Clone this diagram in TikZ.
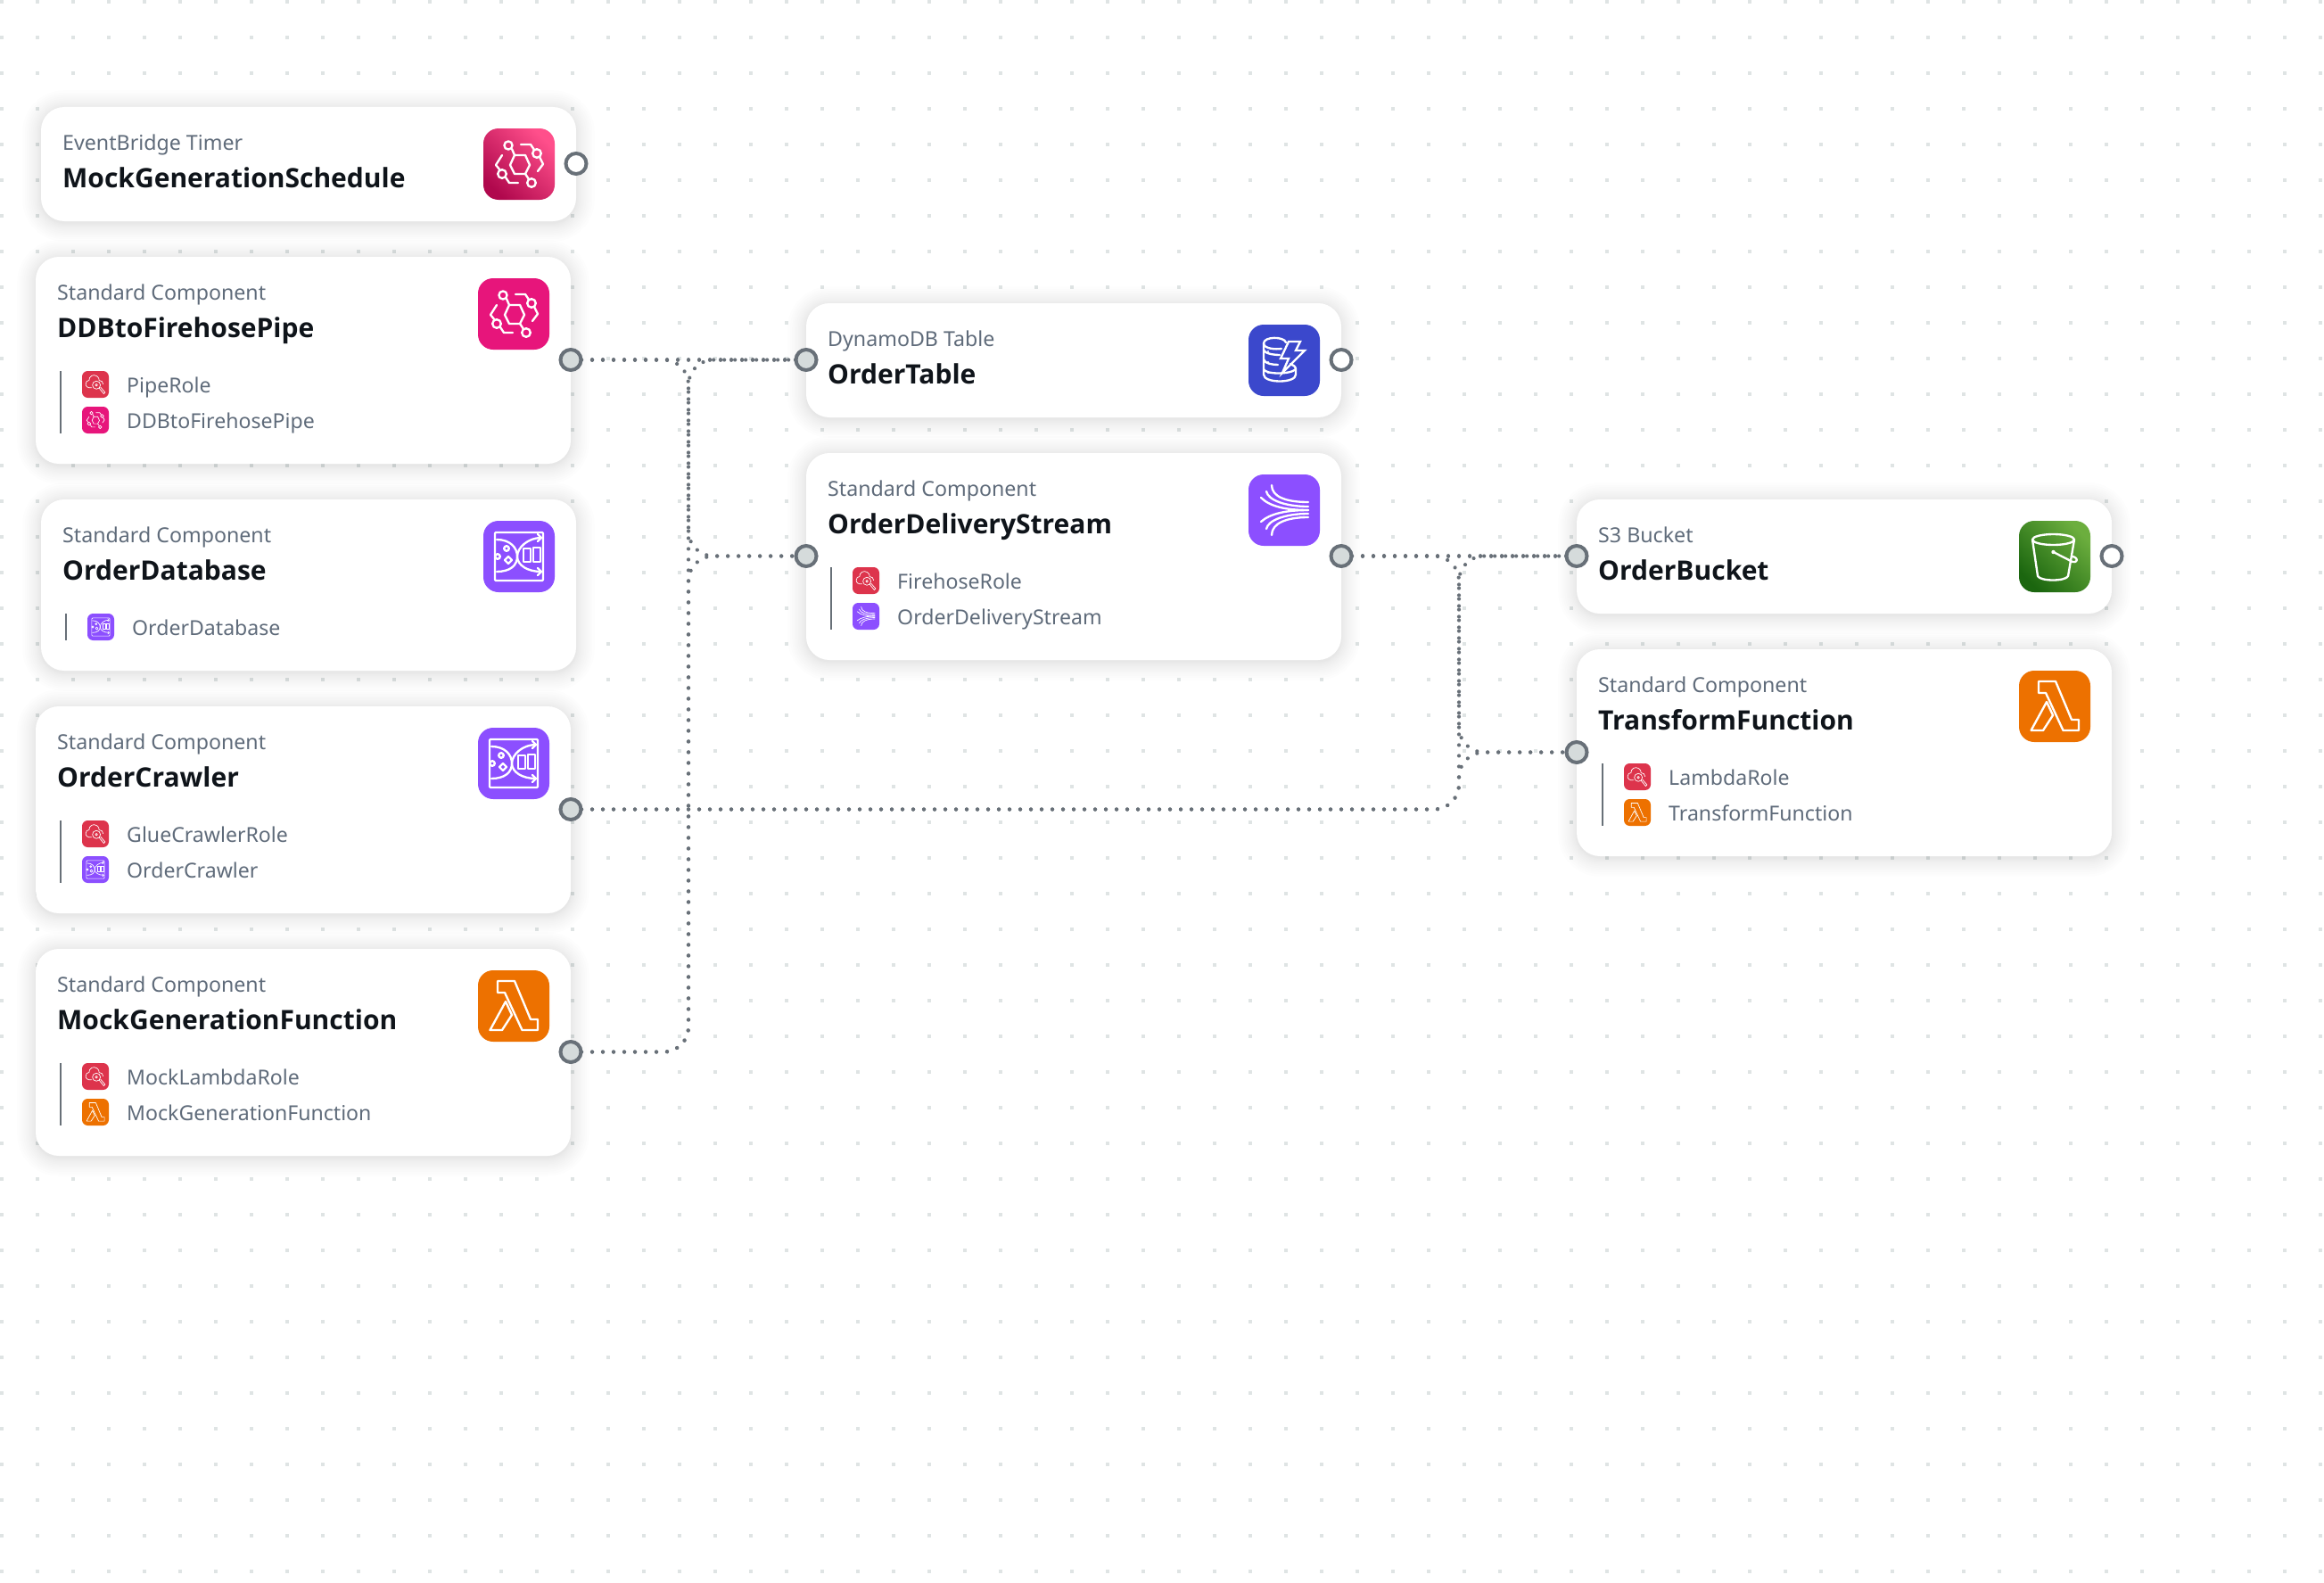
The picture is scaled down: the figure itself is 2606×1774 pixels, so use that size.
\documentclass[tikz,border=0pt]{standalone}
\usepackage{fontspec}
\setmainfont{Noto Sans}
\newfontfamily\titlefont{Open Sans}
\usetikzlibrary{calc}
\definecolor{dotc}{HTML}{DFE4E4}
\definecolor{portc}{HTML}{687078}
\definecolor{portfill}{HTML}{D5DBDB}
\definecolor{labelc}{HTML}{5F6B7A}
\definecolor{titlec}{HTML}{0F141A}
\definecolor{shadowc}{HTML}{001C24}
\definecolor{cpink}{HTML}{E7157B}
\definecolor{cpurple}{HTML}{8C4FFF}
\definecolor{corange}{HTML}{ED7100}
\definecolor{cblue}{HTML}{3B48CC}
\definecolor{cred}{HTML}{DD344C}
\pgfdeclarelayer{conn}
\pgfdeclarelayer{top}
\pgfsetlayers{main,conn,top}
\tikzset{
  cardbox/.style={rectangle,fill=white,rounded corners=26pt,inner sep=0pt,outer sep=0pt,anchor=north west},
  labeltext/.style={inner sep=0pt,anchor=base west,text=labelc,font=\fontsize{23.2}{28}\selectfont},
  titletext/.style={inner sep=0pt,anchor=base west,text=titlec,font=\fontsize{30}{36}\titlefont\bfseries},
  subtext/.style={inner sep=0pt,anchor=base west,text=labelc,font=\fontsize{23.1}{28}\selectfont},
  subbar/.style={draw=portc,line width=2.4pt},
  portfree/.style={circle,draw=portc,line width=4pt,fill=white,minimum size=23pt,inner sep=0pt},
  portused/.style={portfree,fill=portfill},
  flow/.style={draw=portc,line width=4.2pt,line cap=round,dash pattern=on 0.01pt off 11.99pt,rounded corners=28pt},
  bgpink/.style={fill=cpink},
  bgpurple/.style={fill=cpurple},
  bgorange/.style={fill=corange},
  bgblue/.style={fill=cblue},
  bgred/.style={fill=cred},
  bgpinkgrad/.style={bottom color=HB,top color=HT,shading angle=-45},
  bggreengrad/.style={bottom color=GB,top color=GT,shading angle=-45},
}
\definecolor{HB}{HTML}{B0084D}
\definecolor{HT}{HTML}{FF4F8B}
\definecolor{GB}{HTML}{1B660F}
\definecolor{GT}{HTML}{6CAE3E}
% ---------- icon glyphs, drawn in an 80x80 box
\newcommand\glyphEB{%
  \draw (30,41)--(35,30)--(47,30)--(52,41)--(47,51)--(35,51)--cycle;
  \draw (28,19) circle (4.6);
  \draw (32,23)--(35,30);
  \draw (60,28) circle (4.8);
  \draw (42,18)--(53,18)--(57,24);
  \draw (63,32)--(67,40)--(61,48);
  \draw (21,51) circle (4.8);
  \draw (21,30)--(14,41)--(19,47);
  \draw (25,55)--(29,61)--(39,61);
  \draw (54,61) circle (4.8);
  \draw (47,51)--(51,57);
}
\newcommand\glyphGlue{%
  \draw[rounded corners=1pt] (13,13) rectangle (67,67);
  \draw (45,31) rectangle (53,46);
  \draw (56,30) rectangle (64,46);
  \draw (26,31) circle (2.8);
  \draw (16,40) circle (2.8);
  \draw (28,40)--(32,44)--(28,48)--(24,44)--cycle;
  \draw (15,21) .. controls (30,21) and (38,30) .. (38,40) .. controls (38,50) and (50,57) .. (65,57);
  \draw (15,57) .. controls (30,57) and (38,50) .. (38,40) .. controls (38,30) and (50,19) .. (65,19);
  \draw (61,15)--(65,19)--(61,23);
  \draw (61,53)--(65,57)--(61,61);
}
\newcommand\glyphFirehose{%
  \draw (26,12) .. controls (26,25) and (42,31) .. (67,31);
  \draw (20,19) .. controls (22,29) and (42,36) .. (67,36);
  \draw (14,26) .. controls (24,36) and (42,40) .. (67,40);
  \draw (14,53) .. controls (24,44) and (42,40) .. (67,40);
  \draw (20,61) .. controls (22,51) and (42,44) .. (67,44);
  \draw (26,68) .. controls (26,55) and (42,48) .. (67,48);
}
\newcommand\glyphLambda{%
  \draw (22,12)--(41,12)--(59,55)--(67,55)--(67,67)--(49.5,67)--(30,25)--(22,25)--cycle;
  \draw (31,35)--(38,50)--(27,67)--(13.5,67)--cycle;
}
\newcommand\glyphDynamo{%
  \draw (42,20) .. controls (40,13) and (17,13) .. (17,21) -- (17,56) .. controls (17,66) and (53,66) .. (53,56) -- (53,50);
  \draw (17,21) .. controls (17,27) and (30,28) .. (37,27);
  \draw (17,28) .. controls (18,33) and (30,34) .. (35,34);
  \draw (17,39) .. controls (18,44) and (28,45) .. (33,45);
  \draw (17,50) .. controls (19,56) and (47,56) .. (53,50) .. controls (53,47) and (50,45) .. (47,44);
  \fill[white] (22,30) circle (1.2) (22,42) circle (1.2) (22,54) circle (1.2);
  \draw[line join=miter] (45,19)--(58,19)--(53,29)--(63,29)--(38,54)--(45,38)--(36,38)--cycle;
}
\newcommand\glyphSthree{%
  \draw (38.5,21) ellipse (23.5 and 6);
  \draw (15,21)--(21,62) .. controls (24,68) and (52,68) .. (55,62)--(62,21);
  \fill[white] (38.5,35) circle (2.2);
  \draw (38.5,35)--(60,46) .. controls (64,47) and (66,44) .. (64,42) .. controls (63,41) and (61,40) .. (60,40);
}
\newcommand\glyphIam{%
  \draw (28,50) .. controls (18,52) and (10,46) .. (11,38) .. controls (11,32) and (16,28) .. (21,28)
        .. controls (20,16) and (34,8) .. (44,15) .. controls (50,18) and (51,24) .. (51,28)
        .. controls (58,28) and (63,33) .. (63,39);
  \draw (43,42) circle (12);
  \draw (43,42) circle (3.5);
  \draw (51,51)--(65,68)--(69,64)--(55,48);
}
% ---------- icon tile
\newcommand\tile[5]{% style, glyph, x, y, scale
  \begin{scope}[shift={(#3,#4)},scale=#5]
    \path[#1,rounded corners=17pt*#5] (0,0) rectangle (80,80);
    \begin{scope}[color=white,line width=2.65pt*#5-0.3pt,line join=round,line cap=round]
      #2
    \end{scope}
  \end{scope}%
}
% ---------- card: name, x, y, w, h, label, title
\newcommand\card[7]{%
  \foreach \i in {1,...,12}{%
    \pgfmathsetmacro\sp{0.5*\i^1.5}%
    \pgfmathsetmacro\rc{26+\sp}%
    \fill[shadowc,opacity=.009,rounded corners=\rc pt] ($(#2,#3)+(-\sp,-\sp+2)$) rectangle ($(#2,#3)+(#4,#5)+(\sp,\sp+2)$);
  }%
  \node[cardbox,minimum width=#4pt,minimum height=#5pt] (#1) at (#2,#3) {};
  \node[labeltext] (#1-label) at ($(#2,#3)+(24,48.5)$) {#6};
  \node[titletext] (#1-title) at ($(#2,#3)+(24,90)$) {#7};
}
% ---------- nested row: name, x of bar, y of icon, style, glyph, text
\newcommand\subrow[6]{%
  \tile{#4}{#5}{#2+24}{#3}{0.375}
  \node[subtext] (#1) at ($(#2,#3)+(74,24)$) {#6};
}
\newcommand\subbarline[3]{\draw[subbar] (#1,#2) -- (#1,#3);}

\begin{document}
\begin{tikzpicture}[x=1pt,y=-1pt]
\useasboundingbox (0,0) rectangle (2606,1774);
\fill[white] (0,0) rectangle (2606,1774);
% dotted canvas
\foreach \gx in {0,...,65}{\foreach \gy in {0,...,44}{%
  \fill[dotc] ({\gx*40},{\gy*40}) rectangle +(4,4);
}}
% ---------- cards
\card{timer}{46}{120}{600}{128}{EventBridge Timer}{MockGenerationSchedule}
\tile{bgpinkgrad}{\glyphEB}{542}{144}{1}

\card{pipe}{40}{288}{600}{232}{Standard Component}{DDBtoFirehosePipe}
\tile{bgpink}{\glyphEB}{536}{312}{1}
\subbarline{68}{416}{486}
\subrow{piperole}{68}{416}{bgred}{\glyphIam}{PipeRole}
\subrow{pipesub}{68}{456}{bgpink}{\glyphEB}{DDBtoFirehosePipe}

\card{database}{46}{560}{600}{192}{Standard Component}{OrderDatabase}
\tile{bgpurple}{\glyphGlue}{542}{584}{1}
\subbarline{74}{688}{718}
\subrow{dbsub}{74}{688}{bgpurple}{\glyphGlue}{OrderDatabase}

\card{crawler}{40}{792}{600}{232}{Standard Component}{OrderCrawler}
\tile{bgpurple}{\glyphGlue}{536}{816}{1}
\subbarline{68}{920}{990}
\subrow{crawlrole}{68}{920}{bgred}{\glyphIam}{GlueCrawlerRole}
\subrow{crawlsub}{68}{960}{bgpurple}{\glyphGlue}{OrderCrawler}

\card{mock}{40}{1064}{600}{232}{Standard Component}{MockGenerationFunction}
\tile{bgorange}{\glyphLambda}{536}{1088}{1}
\subbarline{68}{1192}{1262}
\subrow{mockrole}{68}{1192}{bgred}{\glyphIam}{MockLambdaRole}
\subrow{mocksub}{68}{1232}{bgorange}{\glyphLambda}{MockGenerationFunction}

\card{table}{904}{340}{600}{128}{DynamoDB Table}{OrderTable}
\tile{bgblue}{\glyphDynamo}{1400}{364}{1}

\card{stream}{904}{508}{600}{232}{Standard Component}{OrderDeliveryStream}
\tile{bgpurple}{\glyphFirehose}{1400}{532}{1}
\subbarline{932}{636}{706}
\subrow{streamrole}{932}{636}{bgred}{\glyphIam}{FirehoseRole}
\subrow{streamsub}{932}{676}{bgpurple}{\glyphFirehose}{OrderDeliveryStream}

\card{bucket}{1768}{560}{600}{128}{S3 Bucket}{OrderBucket}
\tile{bggreengrad}{\glyphSthree}{2264}{584}{1}

\card{transform}{1768}{728}{600}{232}{Standard Component}{TransformFunction}
\tile{bgorange}{\glyphLambda}{2264}{752}{1}
\subbarline{1797}{856}{926}
\subrow{transrole}{1797}{856}{bgred}{\glyphIam}{LambdaRole}
\subrow{transsub}{1797}{896}{bgorange}{\glyphLambda}{TransformFunction}

% ---------- ports
\begin{pgfonlayer}{top}
\node[portfree] (timerOut) at (646,183.5) {};
\node[portused] (pipeOut) at (640,403.5) {};
\node[portused] (crawlerOut) at (640,907.5) {};
\node[portused] (mockOut) at (640,1179.5) {};
\node[portused] (tableIn) at (904,403.5) {};
\node[portfree] (tableOut) at (1504,403.5) {};
\node[portused] (streamIn) at (904,623.5) {};
\node[portused] (streamOut) at (1504,623.5) {};
\node[portused] (bucketIn) at (1768,623.5) {};
\node[portfree] (bucketOut) at (2368,623.5) {};
\node[portused] (transformIn) at (1768,843.5) {};
\end{pgfonlayer}
\coordinate (busL) at (772,0);
\coordinate (busR) at (1636,0);
% ---------- connectors
\begin{pgfonlayer}{conn}
\draw[flow] (pipeOut.center) -- (tableIn.center);
\draw[flow] (pipeOut.center) -- (pipeOut.center -| busL) -- (busL |- streamIn.center) -- (streamIn.center);
\draw[flow] (mockOut.center) -- (mockOut.center -| busL) -- (busL |- tableIn.center) -- (tableIn.center);
\draw[flow] (mockOut.center) -- (mockOut.center -| busL) -- (busL |- streamIn.center) -- (streamIn.center);
\draw[flow] (streamOut.center) -- (bucketIn.center);
\draw[flow] (streamOut.center) -- (streamOut.center -| busR) -- (busR |- transformIn.center) -- (transformIn.center);
\draw[flow] (crawlerOut.center) -- (crawlerOut.center -| busR) -- (busR |- bucketIn.center) -- (bucketIn.center);
\draw[flow] (crawlerOut.center) -- (crawlerOut.center -| busR) -- (busR |- transformIn.center) -- (transformIn.center);
\end{pgfonlayer}
\end{tikzpicture}
\end{document}
